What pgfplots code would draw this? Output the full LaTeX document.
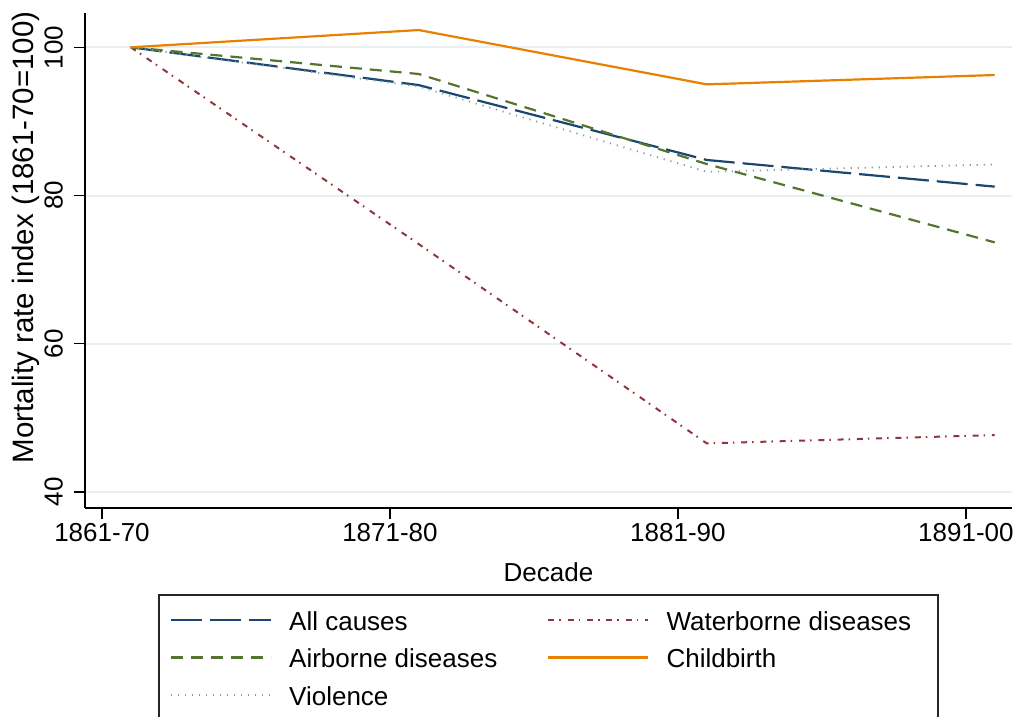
\documentclass[border=0pt]{standalone}
\usepackage{fontspec}
\setmainfont{Liberation Sans}
\usepackage{pgfplots}
\pgfplotsset{compat=1.18}
\definecolor{cnavy}{RGB}{26,71,111}
\definecolor{cmaroon}{RGB}{144,53,59}
\definecolor{cgreen}{RGB}{85,117,47}
\definecolor{corange}{RGB}{232,128,0}
\definecolor{cteal}{RGB}{130,160,160}
\definecolor{cgrid}{RGB}{232,239,241}
\newcommand\tf{\fontsize{26bp}{31bp}\selectfont}
\begin{document}
\begin{tikzpicture}
\path[use as bounding box] (-85bp,-209bp) rectangle (934bp,508bp);
\begin{axis}[
 at={(0bp,0bp)}, anchor=south west,
 scale only axis, width=927bp, height=495bp,
 xmin=-0.059, xmax=3.160, ymin=37.84, ymax=104.63,
 clip=false,
 axis x line*=bottom, axis y line*=left,
 axis line style={black, line width=1.3bp},
 xtick={0,1,2,3}, xticklabels={1861-70,1871-80,1881-90,1891-00},
 ytick={40,60,80,100},
 tick align=outside, major tick length=11bp,
 tick style={black, line width=1.3bp},
 ymajorgrids, grid style={cgrid, line width=2bp},
 /pgf/number format/assume math mode=true,
 tick label style={font=\tf},
 xticklabel style={inner sep=4bp},
 yticklabel style={rotate=90, anchor=south, inner sep=11bp},
 xlabel={Decade}, ylabel={Mortality rate index (1861-70=100)},
 xlabel style={font=\tf, at={(axis description cs:0.5,-0.1475)}, anchor=base, inner sep=0pt},
 ylabel style={font=\fontsize{29.5bp}{34bp}\selectfont, at={(axis description cs:-0.056,0.547)}, anchor=base, inner sep=0pt},
 legend columns=2,
 legend cell align=left,
 legend style={at={(axis description cs:0.0917,-0.2061)}, anchor=north west, draw=none, fill=none,
   inner sep=0pt, outer sep=0pt, font=\tf, column sep=17bp, row sep=17.5bp,
   nodes={inner sep=0pt, text height=20bp, text depth=0bp},
   cells={anchor=west},
   /tikz/every even column/.append style={column sep=50bp}},
 legend image code/.code={\draw[#1] (0bp,0bp) -- (100bp,0bp);},
]
\addplot[cnavy, line width=2.2bp, dash pattern=on 31bp off 8bp] coordinates {(0.1,100) (1.1,94.9) (2.1,84.8) (3.1,81.2)};
\addlegendentry{All causes}
\addplot[cmaroon, line width=2bp, dash pattern=on 6bp off 5bp on 1.5bp off 6.8bp] coordinates {(0.1,100) (1.1,73.45) (2.1,46.56) (3.1,47.68)};
\addlegendentry{Waterborne diseases}
\addplot[cgreen, line width=2.2bp, dash pattern=on 12bp off 8bp] coordinates {(0.1,100) (1.1,96.4) (2.1,84.25) (3.1,73.68)};
\addlegendentry{Airborne diseases}
\addplot[corange, line width=2.2bp] coordinates {(0.1,100) (1.1,102.33) (2.1,95.0) (3.1,96.26)};
\addlegendentry{Childbirth}
\addplot[cteal, line width=1.8bp, dash pattern=on 1.2bp off 5.8bp] coordinates {(0.1,100) (1.1,94.7) (2.1,83.2) (3.1,84.2)};
\addlegendentry{Violence}
\draw[black!85, line width=1.3bp] (axis description cs:0.0798,-0.1758) rectangle (axis description cs:0.9202,-0.6);
\end{axis}
\end{tikzpicture}
\end{document}
